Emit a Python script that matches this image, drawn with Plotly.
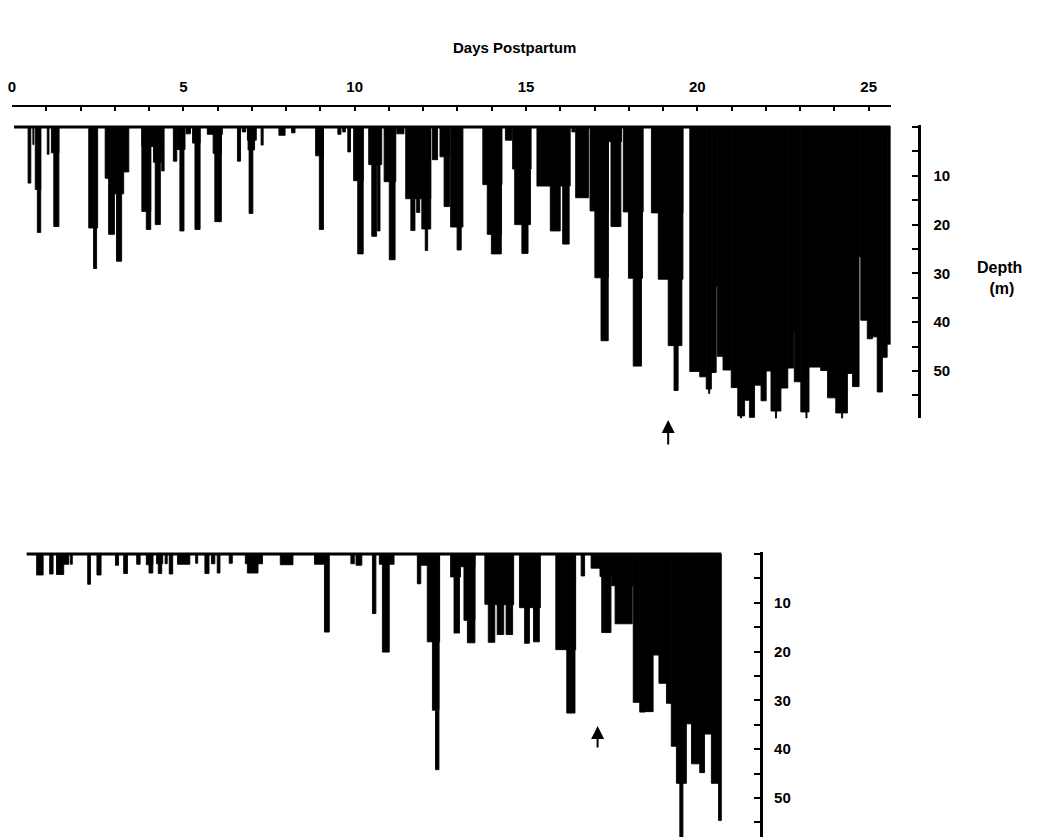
import plotly.graph_objects as go

# ---------------- data ----------------
# Upper record: dive segments, days postpartum (start, end) and max depth (m)
top_start = [0.47, 0.61, 0.68, 0.74, 1.03, 1.15, 1.22, 2.24, 2.38, 2.72, 2.82, 2.99, 3.05, 3.26,
             3.79, 3.79, 3.92, 4.13, 4.18, 4.37, 4.71, 4.81, 4.90, 5.08, 5.27, 5.34, 5.70, 5.87,
             5.92, 6.58, 6.72, 6.87, 6.89, 6.92, 7.27, 7.79, 8.16, 8.86, 8.97, 9.51, 9.65, 9.80,
             9.97, 10.09, 10.41, 10.50, 10.67, 10.86, 11.01, 11.23, 11.49, 11.64, 11.81, 11.96,
             12.06, 12.27, 12.49, 12.61, 12.80, 12.99, 13.74, 13.87, 13.99, 14.40, 14.61, 14.67,
             14.88, 15.32, 15.71, 16.07, 16.34, 16.45, 16.87, 17.01, 17.19, 17.40, 17.48, 17.84,
             17.99, 18.13, 18.66, 18.86, 19.15, 19.32,
             19.78, 20.07, 20.26, 20.41, 20.55, 20.58, 20.75, 20.99, 21.18, 21.38, 21.52, 21.67,
             21.86, 22.01, 22.15, 22.44, 22.64, 22.81, 22.83, 23.02, 23.26, 23.60, 23.80, 24.04,
             24.38, 24.53, 24.72, 24.77, 24.96, 25.11, 25.25, 25.40, 25.54,
             20.33, 21.26, 22.28, 23.17, 24.21, 24.29]
top_end = [0.55, 0.64, 0.84, 0.84, 1.08, 1.37, 1.37, 2.50, 2.47, 2.99, 2.99, 3.26, 3.20, 3.41,
           4.42, 4.05, 4.05, 4.37, 4.33, 4.44, 4.81, 5.05, 5.02, 5.21, 5.49, 5.49, 6.14, 6.11,
           6.11, 6.67, 6.82, 7.13, 7.08, 7.03, 7.33, 7.97, 8.26, 9.09, 9.09, 9.60, 9.73, 9.88,
           10.25, 10.25, 10.79, 10.64, 10.74, 11.20, 11.18, 11.44, 12.22, 11.76, 11.90, 12.22,
           12.13, 12.42, 12.77, 12.77, 13.16, 13.11, 14.30, 14.28, 14.28, 14.59, 15.15, 15.13,
           15.06, 16.29, 16.00, 16.26, 16.43, 16.83, 17.40, 17.40, 17.40, 17.79, 17.77, 18.42,
           18.40, 18.37, 19.58, 19.58, 19.55, 19.44,
           20.07, 20.26, 20.41, 20.55, 20.58, 20.75, 20.99, 21.18, 21.38, 21.52, 21.67, 21.86,
           22.01, 22.15, 22.44, 22.64, 22.81, 22.83, 23.02, 23.26, 23.60, 23.80, 24.04, 24.38,
           24.53, 24.72, 24.77, 24.96, 25.11, 25.25, 25.40, 25.54, 25.64,
           20.36, 21.29, 22.31, 23.20, 24.24, 24.32]
top_depth = [11.5, 3.6, 12.8, 21.6, 5.6, 5.3, 20.4, 20.7, 29.0, 10.5, 22.0, 13.7, 27.5, 9.2,
             4.0, 17.3, 21.0, 7.2, 20.0, 9.0, 7.0, 4.6, 21.3, 1.4, 3.3, 21.0, 1.5, 5.4,
             19.4, 7.0, 1.0, 2.7, 4.7, 17.7, 3.7, 1.7, 1.2, 5.9, 21.0, 1.5, 1.0, 5.1,
             11.0, 26.0, 7.7, 22.4, 21.3, 11.2, 27.2, 1.4, 14.7, 21.2, 17.5, 20.9,
             25.3, 6.7, 6.1, 16.3, 20.5, 25.2, 11.8, 22.0, 26.0, 2.7, 8.6, 20.0,
             25.9, 12.1, 21.3, 24.0, 1.0, 14.5, 17.2, 30.9, 43.8, 3.0, 20.4, 17.4,
             31.0, 49.0, 17.6, 31.2, 44.8, 54.0,
             50.1, 51.2, 53.7, 50.3, 32.6, 47.0, 49.8, 53.4, 59.2, 56.0, 59.5, 52.9,
             56.1, 50.0, 58.2, 53.5, 49.4, 42.0, 52.2, 58.4, 49.2, 49.9, 55.5, 58.6,
             50.5, 53.2, 26.6, 39.6, 43.4, 43.0, 54.3, 47.2, 44.5,
             54.6, 59.7, 59.8, 59.7, 59.8, 57.0]
top_record = [0.06, 25.64]          # start / end of the upper record (days)

# Lower record
bot_start = [0.72, 1.10, 1.30, 1.51, 1.71, 2.21, 2.48, 3.02, 3.26, 3.64, 3.92, 4.00, 4.22, 4.27,
             4.47, 4.59, 4.83, 5.36, 5.63, 5.82, 5.99, 6.34, 6.81, 6.87, 7.83, 8.83, 9.12, 9.89,
             10.04, 10.52, 10.72, 10.81, 11.83, 11.93, 12.12, 12.27, 12.36, 12.80, 12.90, 13.09,
             13.19, 13.29, 13.80, 13.90, 14.11, 14.16, 14.42, 14.81, 14.96, 15.22, 15.87, 16.19,
             16.61, 16.90, 17.16, 17.21, 17.50, 17.60, 18.13, 18.32, 18.47, 18.71, 18.88, 19.10,
             19.24, 19.39, 19.49, 19.68, 19.83, 20.07, 20.21, 20.41, 20.62]
bot_end = [0.91, 1.20, 1.51, 1.66, 1.76, 2.29, 2.60, 3.11, 3.37, 3.74, 4.11, 4.11, 4.40, 4.37,
           4.53, 4.69, 5.19, 5.42, 5.75, 5.92, 6.07, 6.43, 7.31, 7.18, 8.20, 9.22, 9.26, 9.99,
           10.21, 10.62, 11.15, 11.01, 11.93, 12.12, 12.48, 12.46, 12.46, 13.09, 13.06, 13.51,
           13.51, 13.51, 14.11, 14.09, 14.64, 14.35, 14.61, 15.42, 15.10, 15.39, 16.45, 16.43,
           16.71, 17.16, 17.50, 17.48, 18.13, 18.10, 18.32, 18.47, 18.71, 18.88, 19.10, 19.24,
           19.39, 19.68, 19.58, 19.83, 20.07, 20.21, 20.41, 20.62, 20.70]
bot_depth = [4.3, 4.1, 4.2, 2.1, 2.1, 6.2, 4.3, 2.3, 4.0, 2.1, 2.2, 3.9, 2.0, 4.0,
             2.0, 4.1, 2.1, 1.9, 4.0, 2.0, 3.9, 1.9, 2.0, 3.9, 2.2, 2.1, 16.0, 2.0,
             2.3, 12.2, 2.1, 20.1, 6.1, 2.3, 18.0, 32.0, 44.2, 4.7, 16.2, 2.6,
             13.6, 18.2, 10.3, 18.1, 10.4, 16.5, 16.5, 11.0, 18.3, 18.0, 19.6, 32.6,
             4.5, 2.9, 4.6, 16.1, 6.5, 14.3, 30.4, 32.4, 32.3, 20.7, 26.5, 30.6,
             39.4, 47.0, 58.5, 34.8, 43.0, 44.8, 36.9, 47.0, 54.6]
bot_record = [0.43, 20.70]

day_ticks = list(range(0, 26))
day_labels = [str(d) if d % 5 == 0 else "" for d in day_ticks]
depth_ticks = [0, 5, 10, 15, 20, 25, 30, 35, 40, 45, 50, 55]
depth_labels = ["", "", "10", "", "20", "", "30", "", "40", "", "50", ""]
arrow_day_top = 19.15
arrow_day_bot = 17.09

# ---------------- layout geometry (pixels of the 1039x839 page) ----------------
W, H = 1039, 839
X0, PXD, XMAX = 8.0, 34.4, 25.64
PXM = 4.88
Y0_TOP, TOP_MAX = 127.0, 59.7
Y0_BOT, BOT_MAX = 554.0, 58.0
YMIN = -0.4


def fx(px):
    return px / W


def fy(py):
    return 1 - py / H


xdom = [fx(X0), fx(X0 + XMAX * PXD)]
ydom_top = [fy(Y0_TOP + TOP_MAX * PXM), fy(Y0_TOP + YMIN * PXM)]
ydom_bot = [max(0.0, fy(Y0_BOT + BOT_MAX * PXM)), fy(Y0_BOT + YMIN * PXM)]

FONT = "Liberation Sans, Arial, Helvetica, sans-serif"
tfont = dict(family=FONT, size=15, color="black", weight="bold")


def bars(starts, ends, depths, xa, ya):
    return go.Bar(
        x=[(s + e) / 2 for s, e in zip(starts, ends)],
        y=depths,
        width=[e - s for s, e in zip(starts, ends)],
        base=0,
        marker=dict(color="black", line=dict(width=0.9, color="black")),
        xaxis=xa, yaxis=ya, hoverinfo="skip",
    )


def surface(rec, xa, ya):
    return go.Scatter(x=rec, y=[0, 0], mode="lines",
                      line=dict(color="black", width=3),
                      xaxis=xa, yaxis=ya, hoverinfo="skip")


fig = go.Figure()
fig.add_trace(bars(top_start, top_end, top_depth, "x", "y"))
fig.add_trace(surface(top_record, "x", "y"))
fig.add_trace(bars(bot_start, bot_end, bot_depth, "x2", "y2"))
fig.add_trace(surface(bot_record, "x2", "y2"))

fig.update_layout(
    width=W, height=H,
    margin=dict(l=0, r=0, t=0, b=0),
    paper_bgcolor="white", plot_bgcolor="white",
    showlegend=False, barmode="overlay",
    xaxis=dict(domain=xdom, range=[0, XMAX], side="top", anchor="free",
               position=fy(106), showline=True, linewidth=2, linecolor="black",
               ticks="inside", ticklen=4, tickwidth=1.5, tickcolor="black",
               tickmode="array", tickvals=day_ticks, ticktext=day_labels,
               tickfont=tfont, ticklabelstandoff=7,
               showgrid=False, zeroline=False),
    yaxis=dict(domain=ydom_top, range=[TOP_MAX, YMIN], side="right", anchor="free",
               position=fx(919), showline=True, linewidth=3, linecolor="black",
               ticks="inside", ticklen=6, tickwidth=2, tickcolor="black",
               tickmode="array", tickvals=depth_ticks + [TOP_MAX],
               ticktext=depth_labels + [""],
               tickfont=tfont, ticklabelstandoff=9,
               showgrid=False, zeroline=False),
    xaxis2=dict(domain=xdom, range=[0, XMAX], anchor="y2", visible=False),
    yaxis2=dict(domain=ydom_bot, range=[BOT_MAX, YMIN], side="right", anchor="free",
                position=fx(760), showline=True, linewidth=3, linecolor="black",
                ticks="inside", ticklen=6, tickwidth=2, tickcolor="black",
                tickmode="array", tickvals=depth_ticks, ticktext=depth_labels,
                tickfont=tfont, ticklabelstandoff=8,
                showgrid=False, zeroline=False),
)

ann_font = dict(family=FONT, size=15, color="black", weight="bold")
fig.add_annotation(text="Days Postpartum", x=fx(512), y=fy(48), xref="paper", yref="paper",
                   showarrow=False, font=ann_font, xanchor="center", yanchor="middle")
fig.add_annotation(text="Depth<br> (m)", x=fx(999), y=fy(278), xref="paper", yref="paper",
                   showarrow=False, font=dict(family=FONT, size=16, color="black", weight="bold"),
                   xanchor="center", yanchor="middle", align="center")
for day, tip, length in [(arrow_day_top, 420, 26), (arrow_day_bot, 726, 23)]:
    fig.add_annotation(text="", x=day, xref="x", y=fy(tip), yref="paper",
                       showarrow=True, ax=0, ay=length, axref="pixel", ayref="pixel",
                       arrowhead=2, arrowsize=1.3, arrowwidth=2, arrowcolor="black",
                       standoff=0)

fig.write_html("out.html")
